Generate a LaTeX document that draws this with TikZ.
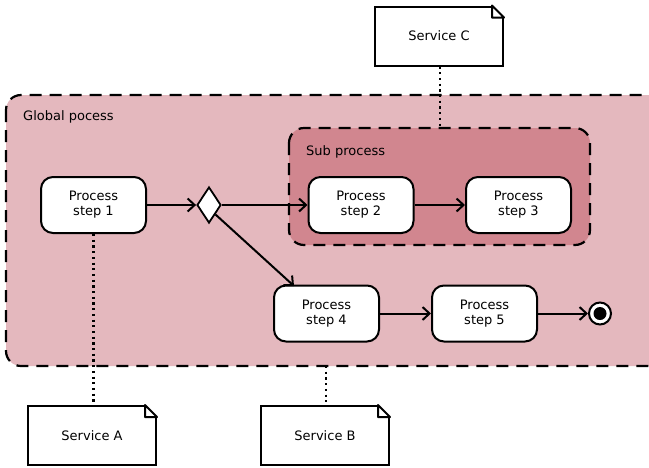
\documentclass[tikz,border=0pt]{standalone}
\usepackage{fontspec}
\setmainfont{DejaVu Sans}
\usetikzlibrary{shapes.geometric,shapes.misc,arrows.meta,positioning}
\definecolor{globalfill}{RGB}{228,184,190}
\definecolor{subfill}{RGB}{209,134,143}
\tikzset{
  px/.style={x=1pt,y=-1pt},
  region/.style={draw=black,line width=2.2pt,dash pattern=on 12pt off 8pt,rounded corners=15pt},
  txt/.style={font=\fontsize{13}{15}\selectfont},
  stepbox/.style={draw=black,fill=white,line width=2pt,rounded corners=12pt,
    minimum width=105pt,minimum height=56pt,align=center,txt,inner sep=0pt},
  note/.style={draw=black,fill=white,line width=2pt,shape=rectangle,
    minimum width=128pt,minimum height=59pt,txt,inner sep=0pt},
  flow/.style={line width=2pt,-{Straight Barb[length=7pt,width=13pt,line width=2pt]}},
  link/.style={line width=2.2pt,dash pattern=on 2.2pt off 3.5pt},
  label/.style={txt,anchor=west,inner sep=0pt}
}
\newcommand{\notefold}[1]{%
  \fill[white] ([xshift=-12pt]#1.north east) -- (#1.north east) -- ([yshift=-12pt]#1.north east) -- cycle;
  \draw[line width=2pt,line join=round] ([xshift=-12pt]#1.north east) -- ([xshift=-12pt,yshift=-12pt]#1.north east) -- ([yshift=-12pt]#1.north east) -- cycle;
}
\begin{document}
\begin{tikzpicture}[px]
\useasboundingbox (0,0) rectangle (649,467);
\fill[white] (0,0) rectangle (649,467);

% regions
\draw[region,fill=globalfill] (6,95) rectangle (680,366);
\coordinate (gbottom) at (326,366);
\node[label] (glabel) at (23,117) {Global pocess};
\draw[region,fill=subfill] (289,128) rectangle (590,245);
\coordinate (stop) at (440,128);
\node[label] (slabel) at (306,152) {Sub process};

% activities
\node[stepbox] (s1) at (93.5,205) {Process\\step 1};
\node[stepbox] (s2) at (361,205) {Process\\step 2};
\node[stepbox] (s3) at (518.5,205) {Process\\step 3};
\node[stepbox] (s4) at (326.5,313.5) {Process\\step 4};
\node[stepbox] (s5) at (484.5,313.5) {Process\\step 5};
\node[diamond,draw=black,fill=white,line width=1.8pt,minimum width=24pt,minimum height=36pt,inner sep=0pt,aspect=0.67] (dec) at (209,205) {};
\node[circle,draw=black,fill=white,line width=2pt,minimum size=22pt,inner sep=0pt] (fin) at (600,313.5) {};
\node[circle,fill=black,minimum size=13pt,inner sep=0pt] (finc) at (fin) {};

% notes
\node[note] (sc) at (439,36) {Service C};
\node[note] (sa) at (92,435.5) {Service A};
\node[note] (sb) at (325,435.5) {Service B};

% flows
\draw[flow] (s1.east) -- (dec.west);
\draw[flow] (dec.east) -- (s2.west);
\draw[flow] (dec.south east) -- (294,286);
\draw[flow] (s2.east) -- (s3.west);
\draw[flow] (s4.east) -- (s5.west);
\draw[flow] (s5.east) -- (fin.west);

% associations
\draw[link] (s1.south) -- (sa.north -| s1.south);
\draw[link] (sc.south -| stop) -- (stop);
\draw[link] (gbottom) -- (sb.north -| gbottom);

\notefold{sc}
\notefold{sa}
\notefold{sb}
\end{tikzpicture}
\end{document}
